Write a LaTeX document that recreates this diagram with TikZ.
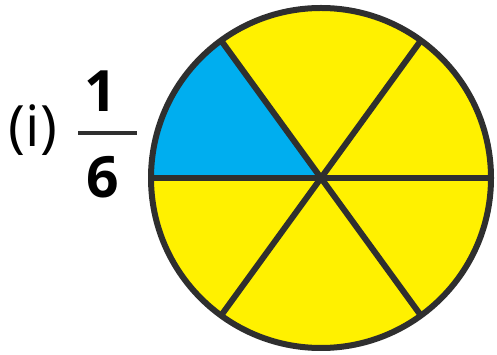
\documentclass[tikz,border=0pt]{standalone}
\usepackage{fontspec}
\setmainfont{Open Sans}
\usepackage{tikz}
\usetikzlibrary{positioning,calc}
\definecolor{piey}{HTML}{FFF100}
\definecolor{pieb}{HTML}{00AEEF}
\definecolor{pied}{HTML}{2F2F2F}
\begin{document}
\begin{tikzpicture}[
  x=1pt,y=1pt,
  rim/.style={draw=pied,line width=6pt},
  spoke/.style={draw=pied,line width=6pt},
  lbl/.style={inner sep=0pt,font=\fontsize{57}{60}\selectfont},
  dig/.style={inner sep=0pt,font=\fontsize{57}{60}\selectfont\bfseries}
]
\useasboundingbox (0,0) rectangle (497,355);
\coordinate (c) at (321,177);
% sectors
\fill[piey] (c) circle[radius=170];
\fill[pieb] (c) -- ++(126:170) arc[start angle=126,end angle=180,radius=170] -- cycle;
% spokes
\foreach \a in {0,54,126} {
  \coordinate (p\a) at ($(c)+(\a:170)$);
  \draw[spoke] (p\a) -- ($(p\a)!2!(c)$);
}
\draw[rim] (c) circle[radius=170];
% label
\node[lbl] (roman) at (33,225) {(i)};
\node[dig] (num) at (101,264) {1};
\node[dig] (den) at (103,178) {6};
\fill[pied] (78,220) rectangle (137,224);
\end{tikzpicture}
\end{document}
